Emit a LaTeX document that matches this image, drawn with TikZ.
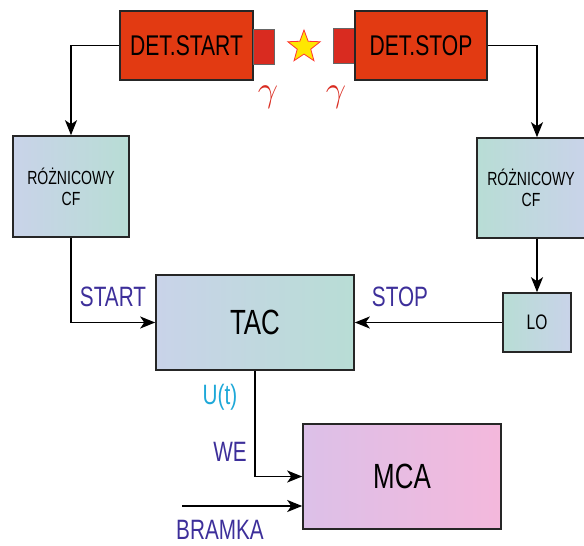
\documentclass[tikz,border=0pt]{standalone}
\usepackage{fontspec}
\usepackage{graphicx}
\setmainfont{Liberation Sans}[FakeStretch=0.74]
\usetikzlibrary{shapes.geometric,arrows.meta}
\definecolor{detred}{HTML}{E23A12}
\definecolor{sqred}{HTML}{D92B20}
\definecolor{lblue}{HTML}{C9D3E9}
\definecolor{lteal}{HTML}{B8DDD5}
\definecolor{lilac}{HTML}{DCC0E8}
\definecolor{lpink}{HTML}{F4B8DC}
\definecolor{lblpurple}{HTML}{3D2F9A}
\definecolor{lblcyan}{HTML}{1EA8D8}
\newcommand{\biggam}{\scalebox{1.45}{$\gamma$}}
\tikzset{
  x=1pt,y=1pt,
  box/.style={draw=black!85,line width=1.6pt,inner sep=0pt,align=center},
  det/.style={box,fill=detred,minimum width=133pt,minimum height=69pt,font=\fontsize{28.5}{28}\selectfont},
  sq/.style={draw=black!60,line width=1pt,fill=sqred,minimum width=21pt,minimum height=35pt,inner sep=0pt},
  bluebox/.style={box,left color=lblue,right color=lteal},
  tealbox/.style={box,left color=lteal,right color=lblue},
  arr/.style={line width=1.4pt,-{Stealth[length=15pt,width=12pt,inset=4pt]}},
  lbl/.style={text=lblpurple,font=\fontsize{28}{28}\selectfont,inner sep=0pt},
  gam/.style={text=sqred,font=\fontsize{24.88}{26}\selectfont,inner sep=0pt}
}
\begin{document}
\begin{tikzpicture}
\useasboundingbox (0,0) rectangle (584,-546);
\node[det] (dstart) at (186.5,-45.5) {DET.START};
\node[sq] (lsq) at (263.5,-46.5) {};
\node[star,star points=5,star point ratio=2.4,fill=yellow!90!orange,draw=red!80,line width=0.8pt,minimum size=34pt,inner sep=0pt] (src) at (304,-47) {};
\node[sq] (rsq) at (344,-45.5) {};
\node[det,minimum width=132pt] (dstop) at (421,-45.5) {DET.STOP};
\node[gam] (g1) at (268,-97) {\biggam};
\node[gam] (g2) at (336,-97) {\biggam};
\node[bluebox,minimum width=116pt,minimum height=101pt,font=\fontsize{19}{21}\selectfont] (rl) at (71,-186.5) {RÓŻNICOWY\\CF};
\node[tealbox,minimum width=108pt,minimum height=100pt,font=\fontsize{19}{21}\selectfont] (rr) at (531,-188) {RÓŻNICOWY\\CF};
\node[tealbox,minimum width=68pt,minimum height=59pt,font=\fontsize{21}{21}\selectfont] (lo) at (537,-322.5) {LO};
\node[bluebox,minimum width=198pt,minimum height=95pt,font=\fontsize{35}{35}\selectfont] (tac) at (255,-322.5) {TAC};
\node[box,left color=lilac,right color=lpink,minimum width=198pt,minimum height=105pt,font=\fontsize{35}{35}\selectfont] (mca) at (402,-476.5) {MCA};
\node[lbl] (lstart) at (113,-297) {START};
\node[lbl] (lstop) at (400,-297) {STOP};
\node[lbl,text=lblcyan] (lut) at (220,-397) {U(t)};
\node[lbl] (lwe) at (230,-452) {WE};
\node[lbl] (lbr) at (220,-530) {BRAMKA};
\coordinate (bin) at (182,-506);
\draw[arr] (dstart.west) -| (rl.north);
\draw[arr] (dstop.east) -| (rr.north -| lo.north);
\draw[arr] (rr.south -| lo.north) -- (lo.north);
\draw[arr] (lo.west) -- (tac.east);
\draw[arr] (rl.south) |- (tac.west);
\draw[arr] (tac.south) |- (mca.west);
\draw[arr] (bin) -- (bin -| mca.west);
\end{tikzpicture}
\end{document}
